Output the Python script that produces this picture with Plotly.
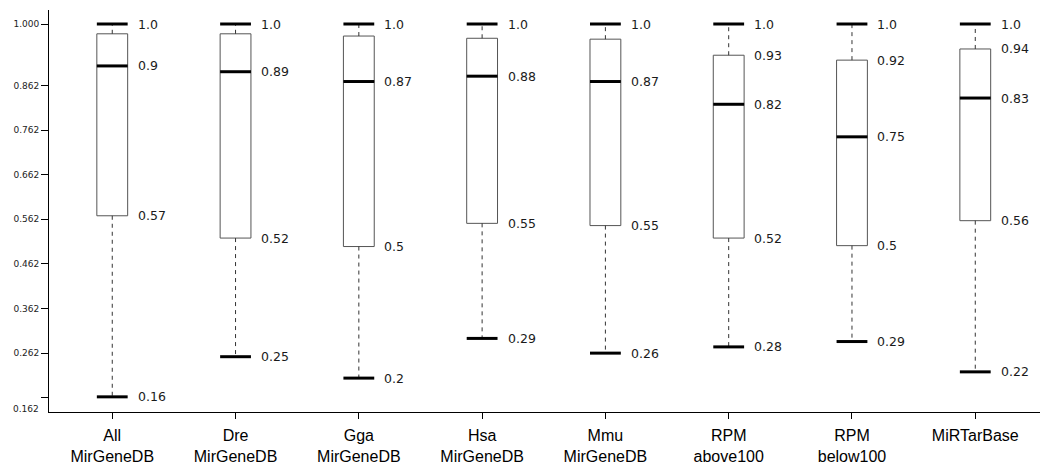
import plotly.graph_objects as go

categories = ["All<br>MirGeneDB", "Dre<br>MirGeneDB", "Gga<br>MirGeneDB", "Hsa<br>MirGeneDB",
              "Mmu<br>MirGeneDB", "RPM<br>above100", "RPM<br>below100", "MiRTarBase"]
upper = [1.0, 1.0, 1.0, 1.0, 1.0, 1.0, 1.0, 1.0]
q3 = [0.978, 0.978, 0.973, 0.968, 0.966, 0.930, 0.919, 0.944]
median = [0.906, 0.893, 0.871, 0.883, 0.871, 0.820, 0.747, 0.834]
q1 = [0.570, 0.520, 0.501, 0.553, 0.548, 0.520, 0.503, 0.559]
lower = [0.164, 0.254, 0.206, 0.295, 0.262, 0.276, 0.288, 0.220]

upper_labels = ["1.0"] * 8
q3_labels = ["", "", "", "", "", "0.93", "0.92", "0.94"]
median_labels = ["0.9", "0.89", "0.87", "0.88", "0.87", "0.82", "0.75", "0.83"]
q1_labels = ["0.57", "0.52", "0.5", "0.55", "0.55", "0.52", "0.5", "0.56"]
lower_labels = ["0.16", "0.25", "0.2", "0.29", "0.26", "0.28", "0.29", "0.22"]

ytick_vals = [0.162, 0.262, 0.362, 0.462, 0.562, 0.662, 0.762, 0.862, 1.000]
ytick_text = ["", "0.262", "0.362", "0.462", "0.562", "0.662", "0.762", "0.862", "1.000"]

W = 0.25
xs = list(range(len(categories)))

fig = go.Figure()

# boxes (no whiskers: fences at quartiles)
fig.add_trace(go.Box(
    x=xs, q1=q1, median=median, q3=q3, lowerfence=q1, upperfence=q3,
    width=W, fillcolor="white", line=dict(color="#555555", width=1),
    whiskerwidth=0, boxpoints=False, showlegend=False, hoverinfo="skip"))

# dashed whiskers
wx, wy = [], []
for i in xs:
    wx += [i, i, None, i, i, None]
    wy += [q3[i], upper[i], None, q1[i], lower[i], None]
fig.add_trace(go.Scatter(x=wx, y=wy, mode="lines",
                         line=dict(color="#333333", width=1, dash="4px,4px"),
                         showlegend=False, hoverinfo="skip"))

# thick caps and medians
cx, cy = [], []
for i in xs:
    for v in (upper[i], lower[i], median[i]):
        cx += [i - W / 2, i + W / 2, None]
        cy += [v, v, None]
fig.add_trace(go.Scatter(x=cx, y=cy, mode="lines",
                         line=dict(color="black", width=3),
                         showlegend=False, hoverinfo="skip"))

annots = []
for i in xs:
    for v, t in ((upper[i], upper_labels[i]), (q3[i], q3_labels[i]),
                 (median[i], median_labels[i]), (q1[i], q1_labels[i]),
                 (lower[i], lower_labels[i])):
        if t:
            annots.append(dict(x=i + W / 2, y=v, xref="x", yref="y", text=t,
                               showarrow=False, xanchor="left", yanchor="middle",
                               xshift=8, font=dict(family="DejaVu Sans", size=12.5, color="#1a1a1a")))
annots.append(dict(x=0, y=0.162, xref="paper", yref="y", text="0.162", showarrow=False,
                   xanchor="right", yanchor="middle", xshift=-8, yshift=-11,
                   font=dict(family="DejaVu Sans", size=9, color="#222222")))

fig.update_layout(
    width=1052, height=465,
    margin=dict(l=49, r=12, t=10, b=53),
    paper_bgcolor="white", plot_bgcolor="white",
    annotations=annots,
    xaxis=dict(range=[-0.513, 7.525], tickmode="array", tickvals=xs, ticktext=categories,
               automargin=False, ticklabelstandoff=3,
               showline=True, linecolor="black", linewidth=1, ticks="outside", ticklen=6,
               tickcolor="black", showgrid=False, zeroline=False,
               tickfont=dict(family="Liberation Sans, Arial", size=16, color="black")),
    yaxis=dict(range=[0.130, 1.0314], tickmode="array", tickvals=ytick_vals, ticktext=ytick_text,
               automargin=False,
               showline=True, linecolor="black", linewidth=1, ticks="outside", ticklen=7,
               tickcolor="black", showgrid=False, zeroline=False,
               tickfont=dict(family="DejaVu Sans", size=9, color="#222222")),
)

fig.write_html("out.html", config={"displayModeBar": False},
               post_script="document.body.style.margin='0';")
